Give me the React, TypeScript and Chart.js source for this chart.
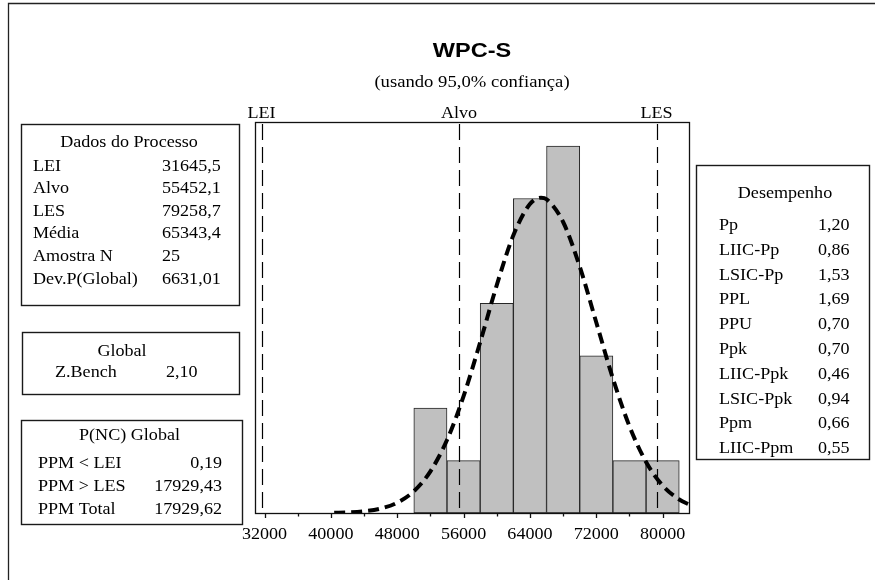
import React, { useEffect, useRef } from "react";
import { Chart, registerables } from "chart.js";

Chart.register(...registerables);

// ---------- data ----------
const binCenters = [52000, 56000, 60000, 64000, 68000, 72000, 76000, 80000];
const binCounts = [2, 1, 4, 6, 7, 3, 1, 1];

const curveX = [40400, 42000, 44000, 46000, 48000, 50000, 52000, 54000, 56000, 58000, 60000, 62000, 64000, 65343, 66000, 68000, 70000, 72000, 74000, 76000, 78000, 80000, 82000, 83300];
const curveY = [0.005, 0.012, 0.034, 0.085, 0.197, 0.414, 0.795, 1.393, 2.229, 3.258, 4.348, 5.298, 5.894, 6.016, 5.987, 5.552, 4.701, 3.635, 2.566, 1.654, 0.973, 0.523, 0.257, 0.154];

const xTicks = [32000, 40000, 48000, 56000, 64000, 72000, 80000];
const xMinorTicks = [36000, 44000, 52000, 60000, 68000, 76000];
const xTickLabels = ["32000", "40000", "48000", "56000", "64000", "72000", "80000"];

const specNames = ["LEI", "Alvo", "LES"];
const specValues = [31645.5, 55452.1, 79258.7];

const titleText = "WPC-S";
const subtitleText = "(usando 95,0% confiança)";

const processTitle = "Dados do Processo";
const processLabels = ["LEI", "Alvo", "LES", "Média", "Amostra N", "Dev.P(Global)"];
const processValues = ["31645,5", "55452,1", "79258,7", "65343,4", "25", "6631,01"];

const overallTitle = "Global";
const overallLabels = ["Z.Bench"];
const overallValues = ["2,10"];

const ppmTitle = "P(NC) Global";
const ppmLabels = ["PPM < LEI", "PPM > LES", "PPM Total"];
const ppmValues = ["0,19", "17929,43", "17929,62"];

const perfTitle = "Desempenho";
const perfLabels = ["Pp", "LIIC-Pp", "LSIC-Pp", "PPL", "PPU", "Ppk", "LIIC-Ppk", "LSIC-Ppk", "Ppm", "LIIC-Ppm"];
const perfValues = ["1,20", "0,86", "1,53", "1,69", "0,70", "0,70", "0,46", "0,94", "0,66", "0,55"];

// ---------- drawing helpers ----------
const SERIF = '"Liberation Serif", "Times New Roman", serif';
const SANS = '"Liberation Sans", Arial, sans-serif';
const SX = 1.13;

function txt(ctx: CanvasRenderingContext2D, s: string, x: number, y: number, align: CanvasTextAlign = "left", font = `16px ${SERIF}`, sx = SX) {
  ctx.save();
  ctx.font = font;
  ctx.fillStyle = "#000";
  ctx.textBaseline = "alphabetic";
  ctx.textAlign = align;
  ctx.translate(x, y);
  ctx.scale(sx, 1);
  ctx.fillText(s, 0, 0);
  ctx.restore();
}

function box(ctx: CanvasRenderingContext2D, x1: number, y1: number, x2: number, y2: number) {
  ctx.save();
  ctx.strokeStyle = "#1a1a1a";
  ctx.lineWidth = 1.4;
  ctx.strokeRect(x1, y1, x2 - x1, y2 - y1);
  ctx.restore();
}

const overlay = {
  id: "capabilityOverlay",
  afterDatasetsDraw(chart: any) {
    const ctx: CanvasRenderingContext2D = chart.ctx;
    const xs = chart.scales.x;
    const { left, right, top, bottom } = chart.chartArea;
    // spec lines
    ctx.save();
    ctx.strokeStyle = "#000";
    ctx.lineWidth = 1.2;
    ctx.setLineDash([16, 7]);
    specValues.forEach((v) => {
      const px = Math.round(xs.getPixelForValue(v)) + 0.5;
      ctx.beginPath();
      ctx.moveTo(px, top + 2);
      ctx.lineTo(px, bottom);
      ctx.stroke();
    });
    ctx.restore();
  },
  afterDraw(chart: any) {
    const ctx: CanvasRenderingContext2D = chart.ctx;
    const xs = chart.scales.x;
    const { left, right, top, bottom } = chart.chartArea;
    const L = Math.round(left) + 0.5, R = Math.round(right) - 0.5;
    const T = Math.round(top) + 0.5, B = Math.round(bottom) + 0.5;

    // plot frame
    ctx.save();
    ctx.strokeStyle = "#111";
    ctx.lineWidth = 1.3;
    ctx.strokeRect(L, T, R - L, B - T);
    // ticks
    ctx.beginPath();
    xTicks.forEach((v) => {
      const px = Math.round(xs.getPixelForValue(v)) + 0.5;
      ctx.moveTo(px, B);
      ctx.lineTo(px, B + 4.5);
    });
    xMinorTicks.forEach((v) => {
      const px = Math.round(xs.getPixelForValue(v)) + 0.5;
      ctx.moveTo(px, B);
      ctx.lineTo(px, B + 3);
    });
    ctx.stroke();
    ctx.restore();

    xTicks.forEach((v, i) => {
      txt(ctx, xTickLabels[i], xs.getPixelForValue(v), 538.5, "center");
    });

    // spec labels
    specNames.forEach((n, i) => {
      txt(ctx, n, xs.getPixelForValue(specValues[i]), 117.5, "center");
    });

    // titles
    txt(ctx, titleText, 472, 57, "center", `bold 21px ${SANS}`, 1.12);
    txt(ctx, subtitleText, 472, 87, "center", `16.5px ${SERIF}`);

    // outer frame
    ctx.save();
    ctx.strokeStyle = "#222";
    ctx.lineWidth = 1.3;
    ctx.beginPath();
    ctx.moveTo(8.5, 590);
    ctx.lineTo(8.5, 3.5);
    ctx.lineTo(890, 3.5);
    ctx.stroke();
    ctx.restore();

    // Dados do Processo
    box(ctx, 21.5, 124.5, 239.5, 305.5);
    txt(ctx, processTitle, 129, 146.5, "center");
    processLabels.forEach((l, i) => {
      const y = 170.5 + i * 22.6;
      txt(ctx, l, 33, y);
      txt(ctx, processValues[i], 162, y);
    });

    // Global
    box(ctx, 22.5, 332.5, 239.5, 394.5);
    txt(ctx, overallTitle, 122, 355.5, "center");
    overallLabels.forEach((l, i) => {
      const y = 377 + i * 22.6;
      txt(ctx, l, 55, y);
      txt(ctx, overallValues[i], 166, y);
    });

    // P(NC) Global
    box(ctx, 21.5, 420.5, 242.5, 524.5);
    txt(ctx, ppmTitle, 129.5, 440, "center");
    ppmLabels.forEach((l, i) => {
      const y = 467.5 + i * 23;
      txt(ctx, l, 38, y);
      txt(ctx, ppmValues[i], 222, y, "right");
    });

    // Desempenho
    box(ctx, 696.5, 165.5, 869.5, 459.5);
    txt(ctx, perfTitle, 785, 198, "center");
    perfLabels.forEach((l, i) => {
      const y = 230 + i * 24.8;
      txt(ctx, l, 719, y);
      txt(ctx, perfValues[i], 818, y);
    });
  },
};

export default function App() {
  const ref = useRef<HTMLCanvasElement | null>(null);
  useEffect(() => {
    if (!ref.current) return;
    const chart = new Chart(ref.current, {
      type: "bar",
      data: {
        datasets: [
          {
            type: "line",
            data: curveX.map((x, i) => ({ x, y: curveY[i] })),
            borderColor: "#000",
            borderWidth: 4,
            borderDash: [11, 6],
            pointRadius: 0,
            cubicInterpolationMode: "monotone",
            fill: false,
            clip: 0,
            order: 0,
          } as any,
          {
            type: "bar",
            data: binCenters.map((x, i) => ({ x, y: binCounts[i] })),
            backgroundColor: "#c0c0c0",
            borderColor: "#262626",
            borderWidth: 1,
            borderSkipped: false,
            barPercentage: 1,
            categoryPercentage: 1,
            order: 1,
          } as any,
        ],
      },
      options: {
        responsive: false,
        animation: false,
        devicePixelRatio: 1,
        events: [],
        layout: { padding: { left: 255, right: 185, top: 122, bottom: 67 } },
        plugins: {
          legend: { display: false },
          tooltip: { enabled: false },
          title: { display: false },
        },
        scales: {
          x: { type: "linear", min: 30853, max: 83295, display: false, offset: false },
          y: { type: "linear", min: 0, max: 7.46, display: false },
        },
      } as any,
      plugins: [overlay],
    });
    return () => chart.destroy();
  }, []);
  return (
    <div style={{ position: "absolute", left: 0, top: 0, width: 875, height: 580, background: "#fff" }}>
      <canvas ref={ref} width={875} height={580} style={{ display: "block" }} />
    </div>
  );
}
